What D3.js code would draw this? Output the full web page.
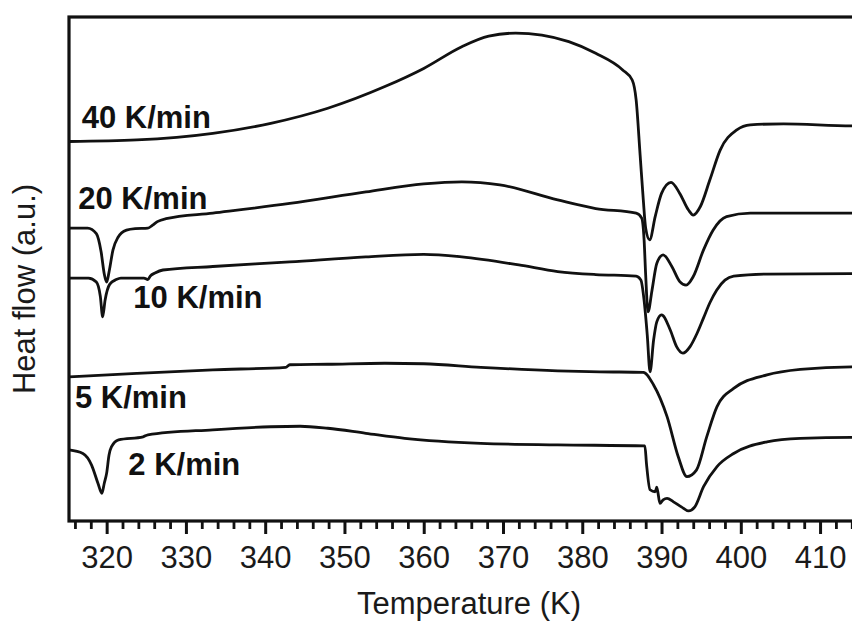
<!DOCTYPE html>
<html>
<head>
<meta charset="utf-8">
<script src="https://cdn.jsdelivr.net/npm/d3@7"></script>
<style>
  html, body { margin: 0; padding: 0; background: #fff; }
  svg { display: block; font-family: "Liberation Sans", Arial, sans-serif; }
</style>
</head>
<body>
<svg id="chart" width="852" height="628"></svg>
<script>
// DSC heating traces: [temperature (K), heat flow (a.u., offset per trace)]
const rate40 = [
  [315.25, 75.3], [323.8, 75.6], [333.4, 76.9], [340.7, 78.9], [347.9, 81.9],
  [355.1, 86.2], [360.0, 89.8], [364.8, 94.1], [368.2, 96.2], [371.6, 96.8],
  [374.9, 96.4], [378.3, 95.1], [381.7, 92.8], [385.1, 89.5], [386.3, 87.5],
  [386.8, 83.5], [387.3, 72.6], [387.7, 63.7], [388.0, 58.1], [388.5, 55.8],
  [389.2, 60.4], [390.0, 65.0], [391.2, 67.2], [392.3, 65.0], [393.4, 61.7],
  [394.0, 60.7], [394.9, 62.4], [396.1, 67.7], [397.4, 73.6], [399.5, 77.6],
  [401.2, 78.6], [405.4, 78.8], [414.0, 78.4], [415.0, 78.4]
];
const rate20 = [
  [315.25, 58.1], [317.6, 58.1], [318.7, 57.0], [319.3, 53.4], [319.7, 49.0],
  [320.0, 47.4], [320.3, 49.4], [320.8, 53.8], [321.4, 56.2], [322.5, 57.7],
  [323.6, 58.0], [325.2, 58.1], [325.8, 58.7], [326.4, 59.4], [327.5, 60.0],
  [333.4, 61.1], [343.1, 63.0], [352.7, 65.3], [360.0, 66.9], [364.8, 67.3],
  [369.6, 66.7], [376.9, 63.7], [381.7, 62.0], [386.8, 61.1], [387.5, 60.1],
  [387.8, 55.8], [388.0, 48.8], [388.3, 41.5], [388.8, 45.8], [389.4, 51.1],
  [390.2, 52.8], [391.3, 50.5], [392.3, 47.5], [393.1, 46.8], [394.0, 48.5],
  [395.3, 53.8], [396.5, 57.7], [398.2, 60.4], [401.2, 61.1], [414.0, 61.1],
  [415.0, 61.1]
];
const rate10 = [
  [315.25, 48.2], [317.7, 48.2], [318.7, 47.4], [319.2, 44.6], [319.5, 40.5],
  [319.8, 43.8], [320.4, 47.0], [321.2, 47.9], [321.8, 48.2], [324.7, 48.2],
  [325.2, 47.9], [325.5, 48.6], [326.1, 49.2], [327.1, 49.8], [333.4, 50.5],
  [343.1, 51.4], [352.7, 52.4], [360.0, 52.9], [364.8, 52.4], [372.0, 50.8],
  [376.9, 49.5], [381.7, 48.9], [386.8, 48.6], [387.4, 47.8], [387.8, 43.8],
  [388.2, 36.9], [388.55, 29.6], [389.0, 35.9], [389.4, 39.5], [390.0, 40.9],
  [391.1, 37.9], [391.9, 34.6], [392.7, 33.3], [393.6, 34.6], [394.5, 37.3],
  [395.3, 40.3], [396.1, 43.3], [396.95, 45.8], [398.0, 47.8], [399.1, 48.6],
  [403.3, 49.0], [414.0, 49.1], [415.0, 49.1]
];
const rate5 = [
  [315.25, 28.6], [323.8, 29.3], [333.4, 30.0], [342.6, 30.5], [343.1, 31.0],
  [347.9, 31.1], [355.1, 31.3], [360.0, 31.2], [367.2, 30.5], [376.9, 29.8],
  [382.2, 29.6], [387.7, 29.5], [389.0, 27.0], [390.7, 20.7], [392.1, 12.8],
  [393.2, 8.8], [394.4, 10.1], [395.7, 16.7], [397.0, 22.7], [399.1, 26.3],
  [403.3, 29.0], [407.5, 30.1], [414.0, 30.6], [415.0, 30.6]
];
const rate2 = [
  [315.25, 14.1], [317.0, 13.4], [318.1, 11.1], [318.9, 7.5], [319.4, 5.5],
  [319.7, 7.5], [320.0, 9.5], [320.3, 13.1], [320.6, 14.7], [321.5, 16.1],
  [324.6, 16.7], [325.2, 17.1], [333.4, 18.1], [340.7, 18.7], [344.4, 18.8],
  [347.9, 18.4], [352.7, 17.4], [357.6, 16.4], [367.2, 15.4],
  [376.9, 15.1], [387.9, 14.9], [388.1, 11.4], [388.55, 6.2], [389.2, 5.8],
  [389.4, 6.7], [389.8, 3.5], [390.2, 4.2], [390.7, 4.5], [391.5, 3.8],
  [392.5, 2.8], [393.4, 2.0], [394.2, 2.8], [395.3, 6.8], [397.0, 10.8],
  [399.1, 13.4], [403.3, 15.7], [407.5, 16.4], [414.0, 16.6], [415.0, 16.6]
];

const seriesList = [rate40, rate20, rate10, rate5, rate2];
const rateLabels = ["40 K/min", "20 K/min", "10 K/min", "5 K/min", "2 K/min"];
// anchor of each label: [temperature, heat flow] at the text baseline start
const labelAnchors = [[316.85, 77.9], [316.42, 62.0], [323.36, 42.2], [316.0, 22.4], [322.73, 9.1]];

const majorTicks = [320, 330, 340, 350, 360, 370, 380, 390, 400, 410];
const minorTicks = d3.range(316, 416, 2).filter(t => t % 10 !== 0);

const xTitle = "Temperature (K)";
const yTitle = "Heat flow (a.u.)";

const svg = d3.select("#chart");

const x = d3.scaleLinear().domain([315.25, 415]).range([69, 859.7]);
const y = d3.scaleLinear().domain([0, 100]).range([521, 17]);

const [x0, x1] = x.range();
const [yBottom, yTop] = y.range();

// traces
const line = d3.line()
  .x(d => x(d[0]))
  .y(d => y(d[1]))
  .curve(d3.curveMonotoneX);

svg.append("g")
  .selectAll("path")
  .data(seriesList)
  .join("path")
  .attr("d", line)
  .attr("fill", "none")
  .attr("stroke", "#111")
  .attr("stroke-width", 2.8)
  .attr("stroke-linejoin", "round");

// frame
svg.append("rect")
  .attr("x", x0).attr("y", yTop)
  .attr("width", x1 - x0).attr("height", yBottom - yTop)
  .attr("fill", "none")
  .attr("stroke", "#111")
  .attr("stroke-width", 3.2);

// bottom axis: minor ticks
const minorAxis = svg.append("g")
  .attr("transform", `translate(0,${yBottom})`)
  .call(d3.axisBottom(x).tickValues(minorTicks).tickSize(8).tickSizeOuter(0).tickFormat(""));
minorAxis.select(".domain").remove();
minorAxis.selectAll(".tick line").attr("stroke", "#111").attr("stroke-width", 2.8);

// bottom axis: major ticks with labels
const majorAxis = svg.append("g")
  .attr("transform", `translate(0,${yBottom})`)
  .call(d3.axisBottom(x).tickValues(majorTicks).tickSize(13).tickSizeOuter(0).tickPadding(12).tickFormat(d3.format("d")));
majorAxis.select(".domain").remove();
majorAxis.selectAll(".tick line").attr("stroke", "#111").attr("stroke-width", 3);
majorAxis.selectAll(".tick text")
  .attr("fill", "#1a1a1a")
  .style("font-family", "'Liberation Sans', Arial, sans-serif")
  .style("font-size", "31px");

// axis titles
svg.append("text")
  .attr("x", 469).attr("y", 614)
  .attr("text-anchor", "middle")
  .attr("fill", "#1a1a1a")
  .style("font-size", "31px")
  .text(xTitle);

svg.append("text")
  .attr("transform", `translate(35,289) rotate(-90)`)
  .attr("text-anchor", "middle")
  .attr("fill", "#1a1a1a")
  .style("font-size", "31px")
  .text(yTitle);

// rate labels
svg.append("g")
  .selectAll("text")
  .data(rateLabels)
  .join("text")
  .attr("x", (d, i) => x(labelAnchors[i][0]))
  .attr("y", (d, i) => y(labelAnchors[i][1]))
  .attr("fill", "#111")
  .style("font-size", "31px")
  .style("font-weight", "bold")
  .text(d => d);
</script>
</body>
</html>
